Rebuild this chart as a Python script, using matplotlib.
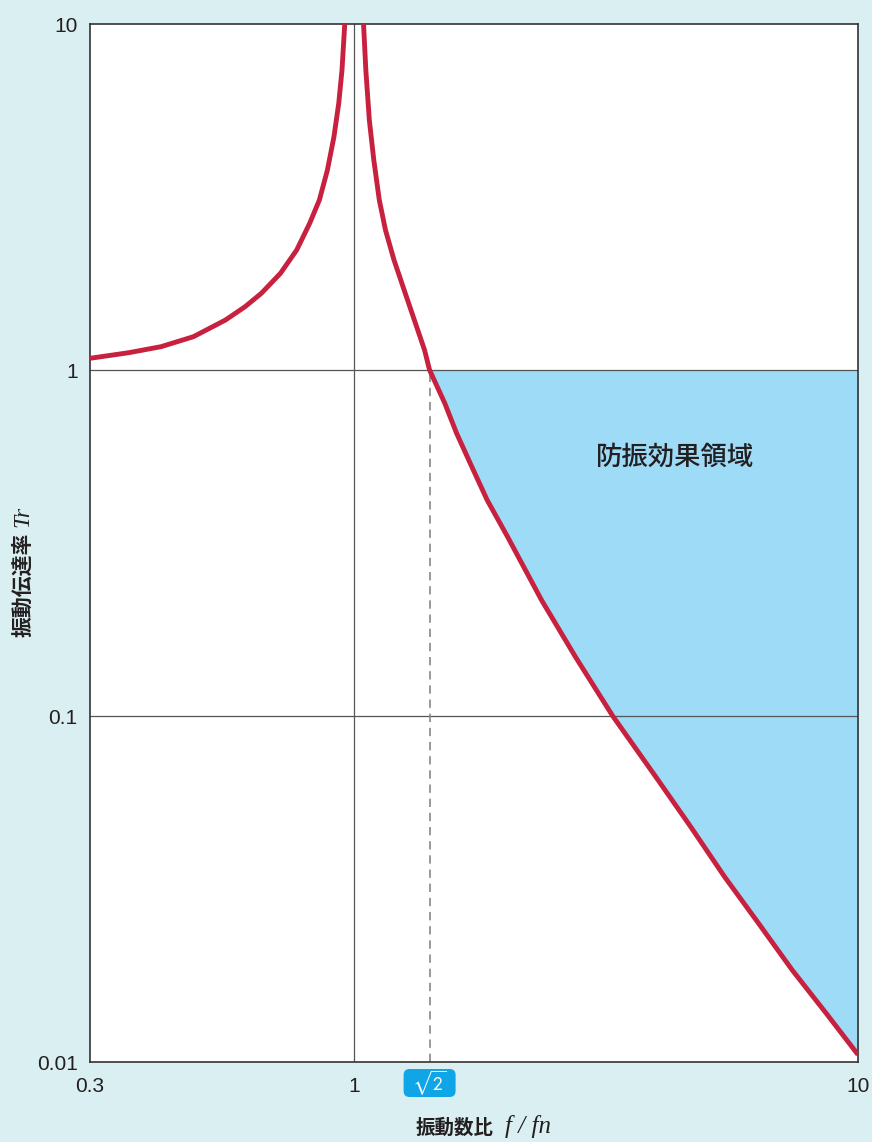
import numpy as np
import matplotlib
matplotlib.use("Agg")
import matplotlib.pyplot as plt
from matplotlib.patches import FancyBboxPatch
from matplotlib.transforms import IdentityTransform

plt.rcParams['font.family'] = ['Noto Sans CJK JP', 'DejaVu Sans']
plt.rcParams['mathtext.fontset'] = 'stix'

# ---- data ----
# left branch (f/fn < 1)
left_x = [0.300, 0.358, 0.415, 0.481, 0.557, 0.609, 0.656, 0.716, 0.771, 0.818,
          0.855, 0.887, 0.914, 0.934, 0.948, 0.960]
left_y = [1.081, 1.122, 1.168, 1.248, 1.395, 1.524, 1.666, 1.904, 2.223, 2.655,
          3.10, 3.785, 4.73, 5.90, 7.36, 10.0]
# right branch (f/fn > 1)
right_x = [1.046, 1.057, 1.074, 1.096, 1.124, 1.156, 1.202, 1.259, 1.319, 1.382,
           1.414, 1.516, 1.600, 1.703, 1.839, 2.018, 2.357, 2.751, 3.263, 3.99,
           4.656, 5.438, 6.346, 7.405, 8.647, 10.0]
right_y = [10.0, 7.36, 5.28, 4.05, 3.10, 2.54, 2.08, 1.703, 1.395, 1.142,
           1.0, 0.801, 0.656, 0.537, 0.421, 0.330, 0.2164, 0.1484, 0.100, 0.0661,
           0.0479, 0.0343, 0.0252, 0.01844, 0.01383, 0.0105]

x_ticks = [0.3, 1, 10]
x_ticklabels = ['0.3', '1', '10']
y_ticks = [0.01, 0.1, 1, 10]
y_ticklabels = ['0.01', '0.1', '1', '10']
sqrt2 = np.sqrt(2)

region_label = '防振効果領域'
xlabel_jp, xlabel_sym = '振動数比', 'f / fn'
ylabel_jp, ylabel_sym = '振動伝達率', 'Tr'

BG = '#daeff1'
FILL = '#9ddbf6'
RED = '#c8203f'
BADGE = '#10a5e6'
TXT = '#231f20'

W, H = 872, 1142
fig = plt.figure(figsize=(W/100, H/100), dpi=100, facecolor=BG)
ax = fig.add_axes([90/W, 1 - 1062/H, (858-90)/W, (1062-24)/H])
ax.set_facecolor('white')
ax.set_xscale('log')
ax.set_yscale('log')
ax.set_xlim(0.3, 10)
ax.set_ylim(0.01, 10)

rx = np.array(right_x)
ry = np.array(right_y)
m = ry <= 1.0
ax.fill_between(rx[m], ry[m], 1.0, color=FILL, lw=0, zorder=1)

# grid lines
for yv in [0.1, 1]:
    ax.axhline(yv, color='#555555', lw=0.9, zorder=2)
ax.axvline(1, color='#555555', lw=0.9, zorder=2)
ax.plot([sqrt2, sqrt2], [0.01, 1], color='#888888', lw=1.2,
        dashes=(5, 3.5), zorder=2)

ax.plot(left_x, left_y, color=RED, lw=3.5, zorder=3, solid_capstyle='butt',
        solid_joinstyle='round')
ax.plot(right_x, right_y, color=RED, lw=3.5, zorder=3, solid_capstyle='butt',
        solid_joinstyle='round')

ax.set_xticks(x_ticks)
ax.set_xticklabels(x_ticklabels)
ax.set_yticks(y_ticks)
ax.set_yticklabels(y_ticklabels)
ax.minorticks_off()
ax.tick_params(length=0, labelsize=15, colors=TXT)
ax.tick_params(axis='y', pad=9)
ax.tick_params(axis='x', pad=11)
for lab in ax.get_xticklabels() + ax.get_yticklabels():
    lab.set_family(['Liberation Sans', 'DejaVu Sans'])

for s in ax.spines.values():
    s.set_color('#333333')
    s.set_linewidth(1.2)

# sqrt(2) badge (pixel-sized box placed at x = sqrt2 under the axis)
bx, by = ax.transData.transform((sqrt2, 0.01))
by -= 21
bw, bh = 52, 28
badge = FancyBboxPatch((bx - bw/2, by - bh/2), bw, bh,
                       boxstyle='round,pad=0,rounding_size=6',
                       transform=IdentityTransform(), fc=BADGE, ec='none',
                       clip_on=False, zorder=5)
fig.patches.append(badge)
fig.text(bx / W, (by - 0.5) / H, r'$\sqrt{2}$', ha='center', va='center',
         color='white', fontsize=14, math_fontfamily='stixsans', zorder=6)

ax.text(0.7617, 0.5829, region_label, transform=ax.transAxes, ha='center',
        va='center', fontsize=19, fontweight='medium', color=TXT, zorder=4)

# x label
fig.text(494/W, 1 - 1128/H, xlabel_jp, ha='right', va='center', fontsize=14,
         color=TXT, fontweight='bold')
fig.text(505/W, 1 - 1127/H, xlabel_sym, ha='left', va='center', fontsize=18,
         color=TXT, style='italic', family=['Liberation Serif', 'DejaVu Serif'])
# y label
fig.text(23/W, 1 - 637/H, ylabel_jp, ha='center', va='bottom', fontsize=15,
         rotation=90, color=TXT, fontweight='bold')
fig.text(23/W, 1 - 527/H, ylabel_sym, ha='center', va='bottom', fontsize=17,
         rotation=90, color=TXT, style='italic',
         family=['Liberation Serif', 'DejaVu Serif'])

fig.savefig('out.png', dpi=100, facecolor=BG)
